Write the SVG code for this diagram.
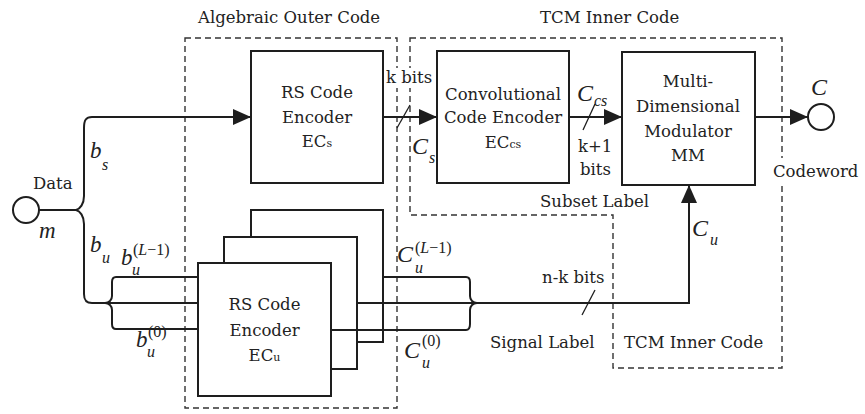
<svg xmlns="http://www.w3.org/2000/svg" width="865" height="414" viewBox="0 0 865 414">
<style>
.box{fill:#fff;stroke:#1e1e1e;stroke-width:2}
.ln{fill:none;stroke:#1e1e1e;stroke-width:2}
.sl{fill:none;stroke:#1e1e1e;stroke-width:1.3}
.dash{fill:none;stroke:#333;stroke-width:1.4;stroke-dasharray:6,4}
.t{font-family:"DejaVu Serif","Liberation Serif",serif;font-size:16.5px;fill:#222}
.tc{font-family:"DejaVu Serif","Liberation Serif",serif;font-size:16.5px;fill:#222;text-anchor:middle}
.sm{font-size:11px}
.mi{font-family:"Liberation Serif",serif;font-style:italic;font-size:23px;fill:#222}
.ms{font-family:"Liberation Serif",serif;font-style:italic;font-size:16px;fill:#222}
.up{font-style:normal}
.cal{font-family:"Liberation Serif",serif;font-style:italic;font-size:24px;fill:#222}
</style>
<defs>
<marker id="ah" markerUnits="userSpaceOnUse" markerWidth="18" markerHeight="16" refX="18" refY="8" orient="auto">
<path d="M0,0 L18,8 L0,16 z" fill="#1e1e1e"/>
</marker>
</defs>

<g id="regions">
<rect class="dash" x="185" y="38" width="212" height="370"/>
<path class="dash" d="M410,38 H782 V368 H613 V215 H410 Z"/>
<text class="t" x="198" y="23">Algebraic Outer Code</text>
<text class="t" x="540" y="23">TCM Inner Code</text>
<text class="t" x="624" y="348">TCM Inner Code</text>
<text class="t" x="540" y="207">Subset Label</text>
<text class="t" x="490" y="348">Signal Label</text>
</g>

<g id="data">
<circle cx="26" cy="210" r="13" fill="#fff" stroke="#1e1e1e" stroke-width="2"/>
<text class="t" x="33" y="189">Data</text>
<text class="mi" x="39" y="238">m</text>
</g>

<g id="rs_s">
<rect class="box" x="251" y="51" width="132" height="132"/>
<text class="tc" x="317" y="98">RS Code</text>
<text class="tc" x="317" y="123">Encoder</text>
<text class="tc" x="317" y="147">EC<tspan class="sm">s</tspan></text>
</g>

<g id="rs_u">
<rect class="box" x="251" y="210" width="132" height="132"/>
<rect class="box" x="224" y="237" width="133" height="132"/>
<rect class="box" x="198" y="263" width="133" height="133"/>
<text class="tc" x="264.5" y="310">RS Code</text>
<text class="tc" x="264.5" y="336">Encoder</text>
<text class="tc" x="264.5" y="361">EC<tspan class="sm">u</tspan></text>
</g>

<g id="conv">
<rect class="box" x="437" y="51" width="132" height="132"/>
<text class="tc" x="503" y="100">Convolutional</text>
<text class="tc" x="503" y="123">Code Encoder</text>
<text class="tc" x="503" y="148">EC<tspan class="sm">cs</tspan></text>
</g>

<g id="mm">
<rect class="box" x="622" y="52" width="133" height="133"/>
<text class="tc" x="688" y="87">Multi-</text>
<text class="tc" x="688" y="112">Dimensional</text>
<text class="tc" x="688" y="137">Modulator</text>
<text class="tc" x="688" y="161">MM</text>
</g>

<g id="out">
<rect x="770" y="158" width="94" height="26" fill="#fff"/>
<circle cx="821" cy="117" r="13" fill="#fff" stroke="#1e1e1e" stroke-width="2"/>
<text class="t" x="773" y="177">Codeword</text>
<text class="cal" x="811" y="95">C</text>
</g>

<g id="connectors">
<line class="ln" x1="39" y1="210" x2="76" y2="210"/>
<path class="ln" d="M92,117 C86,117 84,120 84,128 V196 C84,204 80,209 76,210 C80,211 84,216 84,224 V294 C84,300 86,303 92,303 H198"/>
<path class="ln" d="M92,117 H251" marker-end="url(#ah)"/>
<path class="ln" d="M198,277 H116 C113,277 112,279 112,282 V296 C112,300 109,303 105,303 C109,303 112,306 112,310 V324 C112,327 113,329 116,329 H198"/>
<path class="ln" d="M383,277 H466 C469,277 470,279 470,282 V296 C470,300 473,303 477,303 C473,303 470,306 470,310 V324 C470,327 469,330 466,330 H331"/>
<path class="ln" d="M357,303 H689 V185" marker-end="url(#ah)"/>
<rect x="385" y="68" width="50" height="20" fill="#fff"/>
<text class="t" x="386" y="83">k bits</text>
<path class="ln" d="M383,117 H437" marker-end="url(#ah)"/>
<path class="ln" d="M569,117 H622" marker-end="url(#ah)"/>
<path class="ln" d="M755,117 H808" marker-end="url(#ah)"/>
<line class="sl" x1="397" y1="128" x2="410" y2="105"/>
<line class="sl" x1="583" y1="130" x2="595" y2="104"/>
<line class="sl" x1="582" y1="315" x2="595" y2="290"/>
<text class="t" x="578" y="152">k+1</text>
<text class="t" x="580" y="175">bits</text>
<text class="t" x="542" y="283">n-k bits</text>
</g>

<g id="labels">
<text class="mi" x="90" y="158">b</text><text class="ms" x="102" y="170">s</text>
<text class="mi" x="90" y="252">b</text><text class="ms" x="102" y="263">u</text>
<text class="mi" x="121" y="265">b</text><text class="ms" x="132" y="275">u</text>
<text class="ms" x="133" y="255"><tspan class="up">(</tspan>L<tspan class="up">−1)</tspan></text>
<text class="mi" x="136" y="347">b</text><text class="ms" x="147" y="357">u</text>
<text class="ms" x="148" y="337"><tspan class="up">(0)</tspan></text>
<text class="cal" x="397" y="262">C</text><text class="ms" x="415" y="273">u</text>
<text class="ms" x="415" y="253"><tspan class="up">(</tspan>L<tspan class="up">−1)</tspan></text>
<text class="cal" x="404" y="358">C</text><text class="ms" x="422" y="368">u</text>
<text class="ms" x="422" y="346"><tspan class="up">(0)</tspan></text>
<text class="cal" x="412" y="154">C</text><text class="ms" x="429" y="163">s</text>
<text class="cal" x="577" y="101">C</text><text class="ms" x="594" y="106">cs</text>
<text class="cal" x="692" y="236">C</text><text class="ms" x="710" y="245">u</text>
</g>
</svg>
